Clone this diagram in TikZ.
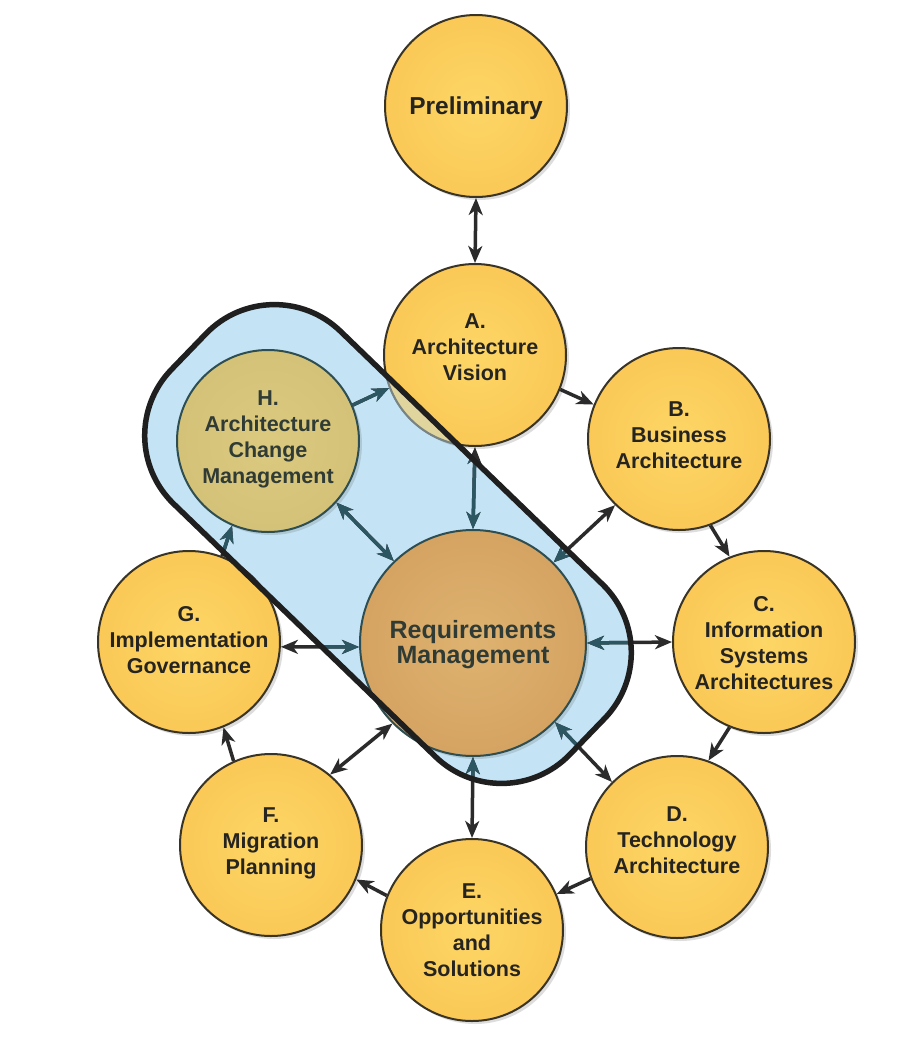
\documentclass[tikz,border=0pt]{standalone}
\usepackage{fontspec}
\setmainfont{Liberation Sans}
\usetikzlibrary{arrows.meta,shadows}
\definecolor{inkc}{HTML}{2B2B2B}
\definecolor{tealc}{HTML}{2C5662}
\colorlet{connc}{inkc}
\definecolor{boxblue}{HTML}{C4E4F6}
\definecolor{circborder}{HTML}{3A3426}
\definecolor{innerborder}{HTML}{2E4E52}
\definecolor{txtc}{HTML}{262420}
\definecolor{innertxt}{HTML}{2F3B34}
\pgfdeclareradialshading{orangeball}{\pgfpoint{0bp}{0bp}}{rgb(0bp)=(0.99,0.84,0.40); rgb(28bp)=(0.98,0.78,0.33); rgb(50bp)=(0.96,0.73,0.28)}
\pgfdeclareradialshading{hball}{\pgfpoint{0bp}{0bp}}{rgb(0bp)=(0.86,0.79,0.50); rgb(50bp)=(0.80,0.73,0.44)}
\pgfdeclareradialshading{rball}{\pgfpoint{0bp}{0bp}}{rgb(0bp)=(0.87,0.70,0.44); rgb(50bp)=(0.80,0.58,0.33)}
\tikzset{
  phase/.style={circle, minimum size=182pt, inner sep=0pt, shading=orangeball, draw=circborder, line width=2pt,
    drop shadow={shadow xshift=3pt, shadow yshift=-3pt, opacity=0.22, fill=black!60}},
  hphase/.style={phase, shading=hball, draw=innerborder},
  rphase/.style={phase, shading=rball, draw=innerborder, minimum size=226pt},
  lbl/.style={align=center, text=txtc, font=\fontsize{21.5}{26}\selectfont\bfseries, inner sep=0pt},
  ilbl/.style={lbl, text=innertxt},
  conn/.style={draw=connc, line width=3.5pt, -{Stealth[length=17pt,width=14pt,inset=5pt]}},
  conn2/.style={conn, {Stealth[length=17pt,width=14pt,inset=5pt]}-{Stealth[length=17pt,width=14pt,inset=5pt]}},
  boxshape/.style={shift={(388,544)}, rotate=-44, rounded corners=95pt}
}
\newcommand\drawconnectors{%
  \draw[conn2] (P.south) -- (A.north);
  \draw[conn] (A.-22) -- (B.158);
  \draw[conn] (B.-70) -- (C.112);
  \draw[conn] (C.-112) -- (D.70);
  \draw[conn] (D.200) -- (E.23);
  \draw[conn] (E.158) -- (F.-22);
  \draw[conn] (F.114) -- (G.-68);
  \draw[conn] (G.69) -- (H.-113);
  \draw[conn] (H.23) -- (A.201);
  \draw[conn2] (A.south) -- (R.north);
  \draw[conn2] (H.-42) -- (R.134);
  \draw[conn2] (B.226) -- (R.45);
  \draw[conn2] (R.east) -- (C.west);
  \draw[conn2] (G.-3) -- (R.182);
  \draw[conn2] (F.50) -- (R.225);
  \draw[conn2] (R.-44) -- (D.135);
  \draw[conn2] (R.south) -- (E.north);
}
\begin{document}
\begin{tikzpicture}[x=1pt,y=-1pt]
\useasboundingbox (0,0) rectangle (906,1058);
\fill[white] (0,0) rectangle (906,1058);
% blue area
\fill[boxblue, boxshape] (-277,-120) rectangle (277,120);
% phases
\node[phase] (P) at (476,106) {};
\node[phase] (A) at (475,355) {};
\node[phase] (B) at (679,439) {};
\node[phase] (C) at (764,642) {};
\node[phase] (D) at (677,847) {};
\node[phase] (E) at (472,930) {};
\node[phase] (F) at (271,845) {};
\node[phase] (G) at (189,642) {};
\node[hphase] (H) at (268,441) {};
\node[rphase] (R) at (473,643) {};
% labels
\node[lbl, font=\fontsize{24.5}{28}\selectfont\bfseries] (Pt) at (476,108) {Preliminary};
\node[lbl] (At) at (475,347) {A.\\Architecture\\Vision};
\node[lbl] (Bt) at (679,435) {B.\\Business\\Architecture};
\node[lbl] (Ct) at (764,643) {C.\\Information\\Systems\\Architectures};
\node[lbl] (Dt) at (677,840) {D.\\Technology\\Architecture};
\node[lbl] (Et) at (472,930) {E.\\Opportunities\\and\\Solutions};
\node[lbl] (Ft) at (271,843) {F.\\Migration\\Planning};
\node[lbl] (Gt) at (189,640) {G.\\Implementation\\Governance};
\node[ilbl] (Ht) at (268,439) {H.\\Architecture\\Change\\Management};
\node[ilbl, font=\fontsize{25}{25}\selectfont\bfseries] (Rt) at (473,645) {Requirements\\Management};
% connectors
\drawconnectors
\begin{scope}
  \clip[boxshape] (-277,-120) rectangle (277,120);
  \colorlet{connc}{tealc}
  \drawconnectors
  \fill[boxblue, opacity=0.45] (A.center) circle[radius=92pt];
\end{scope}
\draw[line width=5.5pt, black!88, boxshape] (-277,-120) rectangle (277,120);
\end{tikzpicture}
\end{document}
